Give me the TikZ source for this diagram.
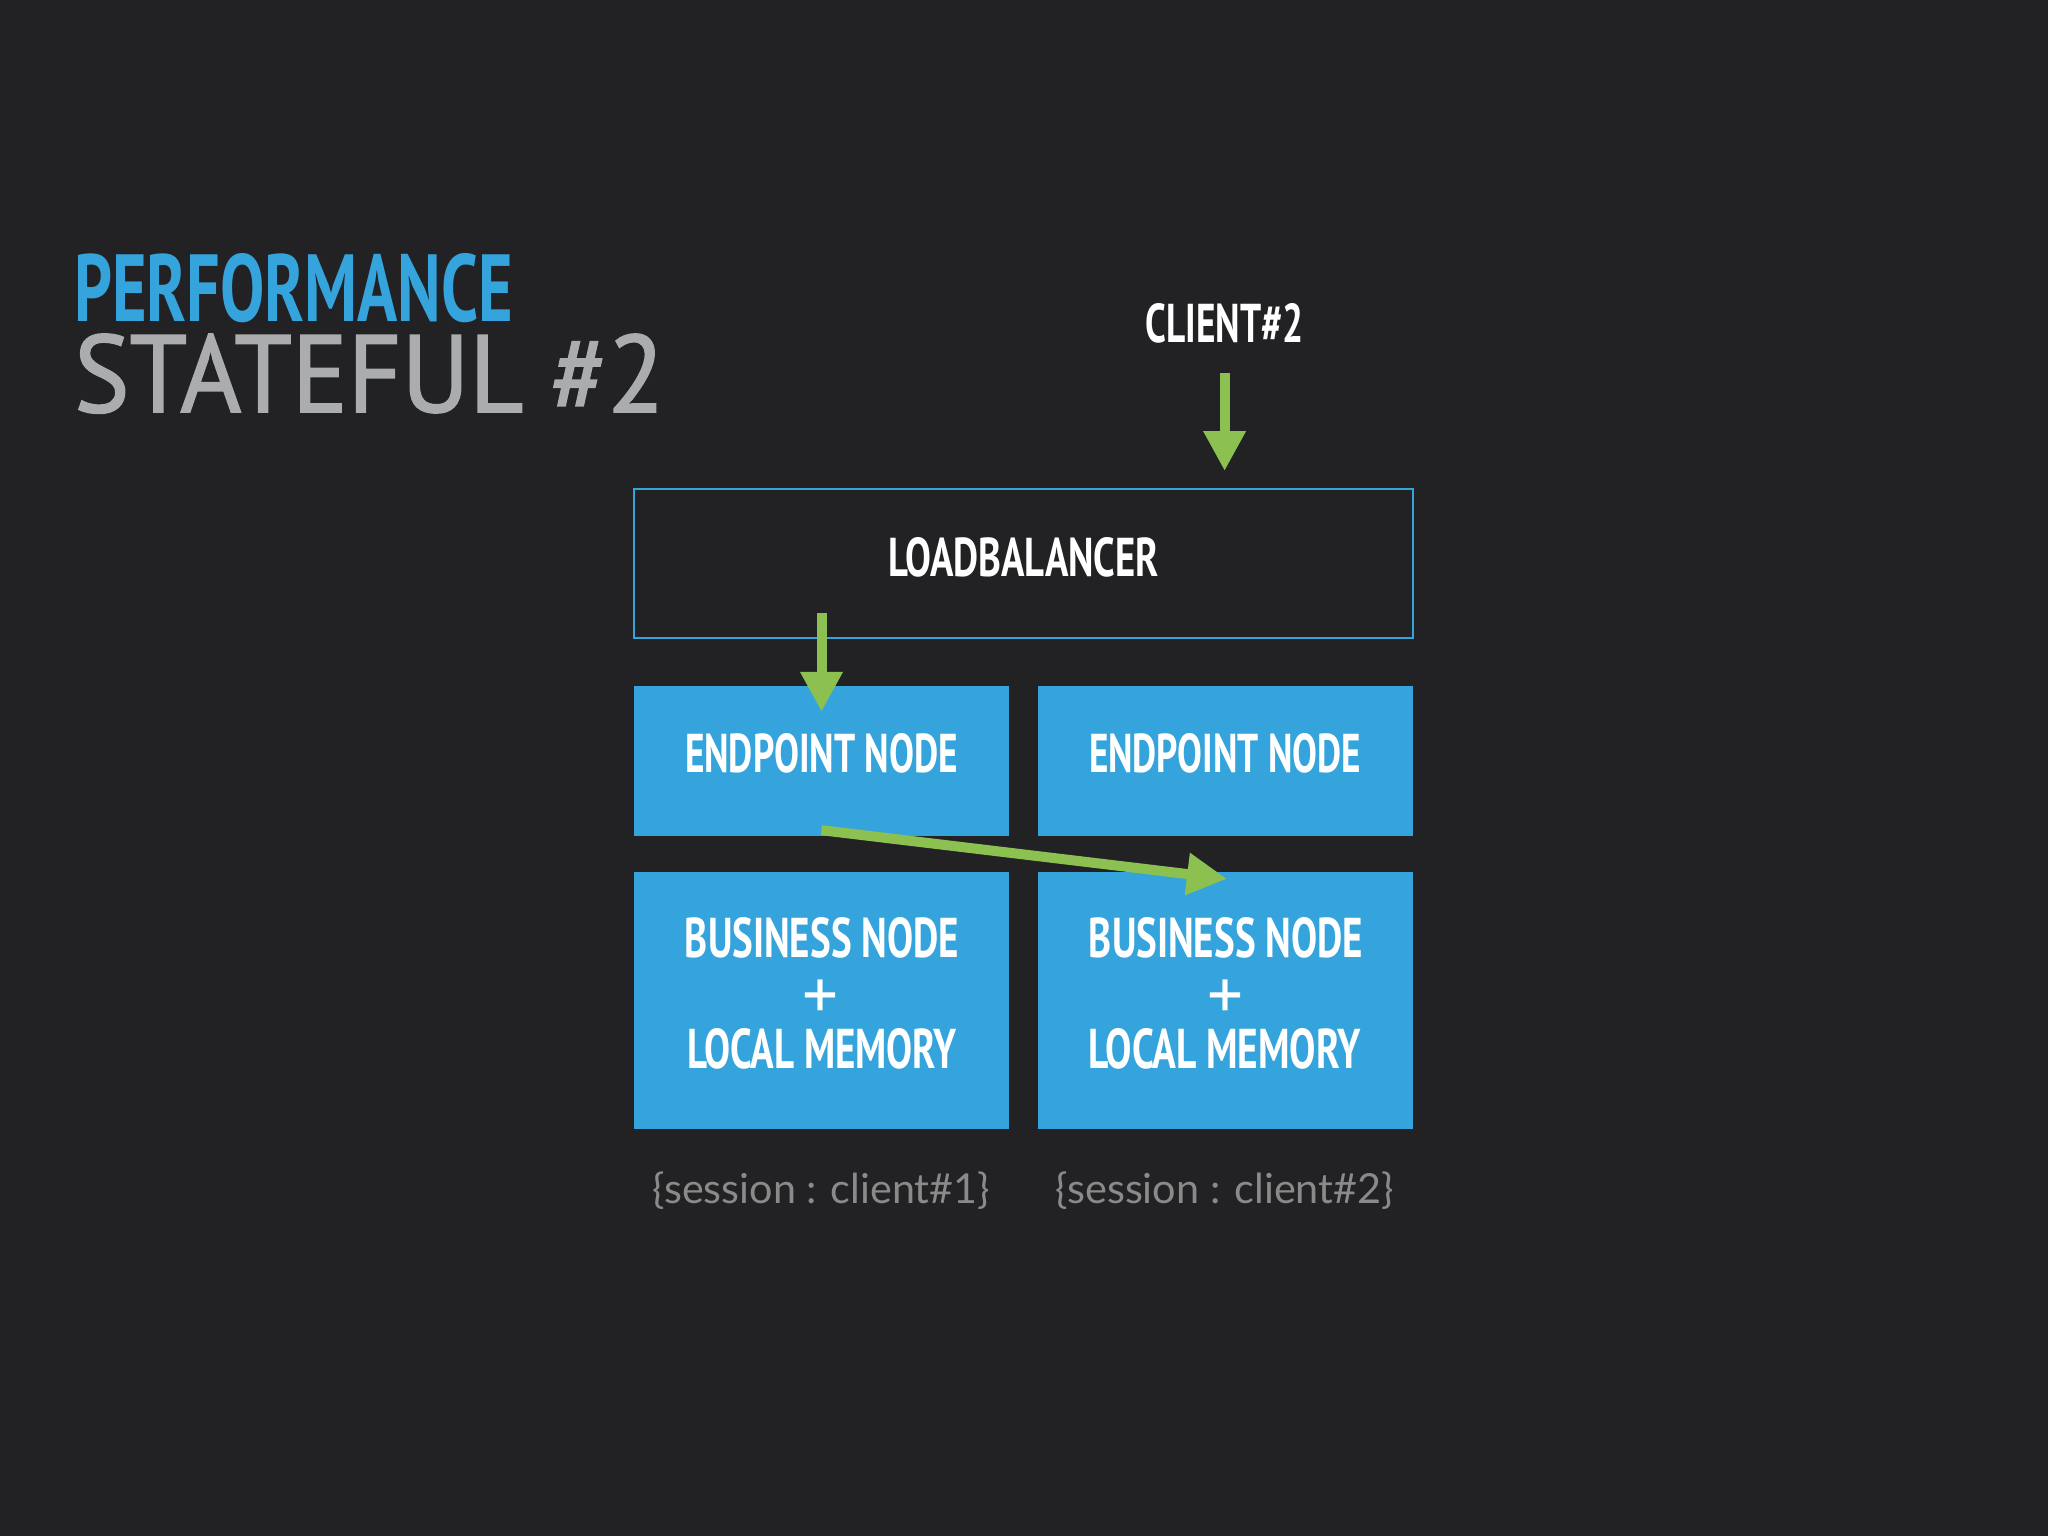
\documentclass[tikz,border=0pt]{standalone}
\usepackage{fontspec}
\usepackage{graphicx}
\usetikzlibrary{arrows.meta}
\newfontfamily\condfont{PT Sans}
\newfontfamily\medfont[FakeBold=1.6]{PT Sans}
\newfontfamily\sessfont{Lato}
\definecolor{bgc}{HTML}{222224}
\definecolor{boxblue}{HTML}{35A4DC}
\definecolor{arrgreen}{HTML}{8CC152}
\definecolor{titlegray}{HTML}{AAACAE}
\definecolor{sessgray}{HTML}{8A8A8A}
\newcommand\fitw[3]{\resizebox{#1pt}{#2pt}{#3}}
\tikzset{
  bluebox/.style={fill=boxblue, draw=none, inner sep=0pt, minimum width=375pt},
  lbbox/.style={draw=boxblue, line width=2pt, fill=none, inner sep=0pt, minimum width=779pt, minimum height=149pt},
  lbl/.style={text=white, inner sep=0pt, anchor=base, font=\condfont\bfseries},
  plus/.style={text=white, inner sep=0pt, anchor=center, font=\condfont},
  sess/.style={text=sessgray, inner sep=0pt, anchor=base, font=\sessfont},
  arr/.style={draw=arrgreen, line width=10pt, -{Triangle[length=40pt,width=40pt]}},
}
\begin{document}
\begin{tikzpicture}[x=1pt,y=-1pt]
\fill[bgc] (0,0) rectangle (2048,1536);
\useasboundingbox (0,0) rectangle (2048,1536);
% title
\node[inner sep=0pt, anchor=base west, text=boxblue, font=\condfont\bfseries] (t1) at (74,321) {\fitw{439}{68}{PERFORMANCE}};
\node[inner sep=0pt, anchor=base west, text=titlegray, font=\medfont] (t2) at (74,412) {\fitw{590}{78}{STATEFUL \#2}};
% boxes
\node[lbbox] (lb) at (1023.5,563.5) {};
\node[bluebox, minimum height=150pt] (ep1) at (821.5,761) {};
\node[bluebox, minimum height=150pt] (ep2) at (1225.5,761) {};
\node[bluebox, minimum height=257pt] (bn1) at (821.5,1000.5) {};
\node[bluebox, minimum height=257pt] (bn2) at (1225.5,1000.5) {};
% labels
\node[lbl] (client2) at (1224.6,342) {\fitw{158}{39}{CLIENT\#2}};
\node[lbl] (lbt) at (1024,576) {\fitw{270}{39}{LOADBALANCER}};
\node[lbl] (ep1t) at (821.5,772) {\fitw{273}{39}{ENDPOINT NODE}};
\node[lbl] (ep2t) at (1225,772) {\fitw{272}{39}{ENDPOINT NODE}};
\node[lbl] (bn1a) at (822,957) {\fitw{274}{40}{BUSINESS NODE}};
\node[lbl] (bn2a) at (1226,957) {\fitw{274}{40}{BUSINESS NODE}};
\node[plus] (bn1p) at (821,999.5) {\resizebox{36pt}{!}{+}};
\node[plus] (bn2p) at (1225,999.5) {\resizebox{36pt}{!}{+}};
\node[lbl] (bn1b) at (822.5,1068) {\fitw{269}{40}{LOCAL MEMORY}};
\node[lbl] (bn2b) at (1225,1068) {\fitw{272}{40}{LOCAL MEMORY}};
\node[sess] (s1) at (821.5,1203) {\resizebox{337pt}{!}{\{session : client\#1\}}};
\node[sess] (s2) at (1225,1203) {\resizebox{338pt}{!}{\{session : client\#2\}}};
% arrows
\draw[arr, shorten <=30pt, shorten >=17pt] (client2.south) -- (client2.south |- lb.north);
\coordinate (a2s) at (821.5,613);
\draw[arr] (a2s) -- ([yshift=-26pt]ep1.north);
\draw[arr] ([yshift=6pt]ep1.south) -- ([xshift=1.5pt,yshift=-7pt]bn2.north);
\end{tikzpicture}
\end{document}
